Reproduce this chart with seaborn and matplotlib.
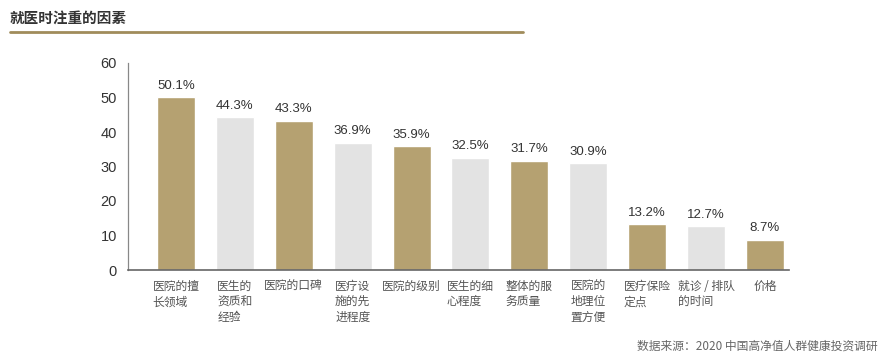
import seaborn as sns
import matplotlib.pyplot as plt
import pandas as pd
import numpy as np

sns.set_theme(style='white')
plt.rcParams['font.family'] = ['Noto Sans CJK SC', 'DejaVu Sans']

factors = ['医院的擅\n长领域', '医生的\n资质和\n经验', '医院的口碑', '医疗设\n施的先\n进程度',
           '医院的级别', '医生的细\n心程度', '整体的服\n务质量', '医院的\n地理位\n置方便',
           '医疗保险\n定点', '就诊 / 排队\n的时间', '价格']
shares = [50.1, 44.3, 43.3, 36.9, 35.9, 32.5, 31.7, 30.9, 13.2, 12.7, 8.7]
yticks = [0, 10, 20, 30, 40, 50, 60]

gold = '#b5a171'
grey = '#e3e3e3'
colors = [gold if i % 2 == 0 else grey for i in range(len(shares))]

df = pd.DataFrame({'factor': factors, 'share': shares})

fig = plt.figure(figsize=(8.88, 3.6), dpi=100)
ax = fig.add_axes([128 / 888, 1 - 270 / 360, (789 - 128) / 888, (270 - 63) / 360])

sns.barplot(data=df, x='factor', y='share', hue='factor', palette=colors,
            legend=False, width=0.645, ax=ax, saturation=1)

for i, v in enumerate(shares):
    ax.text(i, v + 1.6, f'{v}%', ha='center', va='bottom', fontsize=9.5,
            color='#333333', family='Liberation Sans')

ax.set_xlim(-0.815, 10.41)
ax.set_ylim(0, 60)
ax.set_yticks(yticks)
ax.set_yticklabels([str(t) for t in yticks], fontsize=10.5, color='#333333', family='Liberation Sans')
ax.set_xticks(range(len(factors)))
ax.set_xticklabels(factors, fontsize=8.5, color='#555555', multialignment='left',
                   linespacing=1.25, va='top')
ax.set_xlabel('')
ax.set_ylabel('')
ax.tick_params(axis='y', direction='in', length=5, width=0.8, color='#666666', pad=8)
ax.tick_params(axis='x', length=0, pad=7)
for side in ['top', 'right']:
    ax.spines[side].set_visible(False)
ax.spines['left'].set_color('#888888')
ax.spines['bottom'].set_color('#666666')
ax.spines['left'].set_linewidth(0.9)
ax.spines['bottom'].set_linewidth(1.2)

fig.text(10 / 888, 1 - 18 / 360, '就医时注重的因素', fontsize=10.5, color='#333333',
         va='center', ha='left', fontweight='bold')
fig.add_artist(plt.Line2D([10 / 888, 523 / 888], [1 - 32 / 360, 1 - 32 / 360],
                          color='#a08c5b', linewidth=2))
fig.text(878 / 888, 1 - 346 / 360, '数据来源：2020 中国高净值人群健康投资调研', fontsize=8.5,
         color='#666666', va='center', ha='right')

fig.savefig('out.png', dpi=100)
